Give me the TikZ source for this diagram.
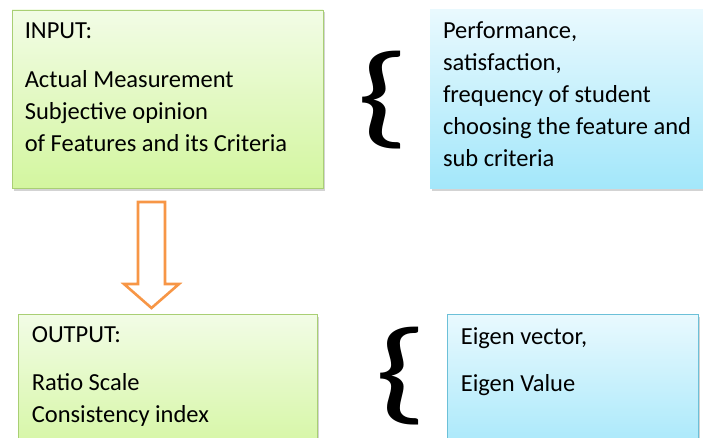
\documentclass[tikz,border=0pt]{standalone}
\usepackage{fontspec}
\setmainfont{Carlito}
\usetikzlibrary{shadows}

\definecolor{greentop}{HTML}{F2FCE6}
\definecolor{greenbot}{HTML}{D3F69F}
\definecolor{greenline}{HTML}{A9CF74}
\definecolor{bluetop}{HTML}{E9F9FE}
\definecolor{bluebot}{HTML}{A3E7FA}
\definecolor{blueline}{HTML}{6CC0D8}
\definecolor{arroworange}{HTML}{F79646}

\tikzset{
  greenbox/.style={draw=greenline, line width=0.8pt, inner sep=0pt,
    top color=greentop, bottom color=greenbot,
    drop shadow={opacity=0.35, shadow xshift=1.5pt, shadow yshift=-2.5pt}},
  bluebox/.style={inner sep=0pt, top color=bluetop, bottom color=bluebot,
    drop shadow={opacity=0.35, shadow xshift=1.5pt, shadow yshift=-2.5pt}},
  boxtext/.style={anchor=base west, inner sep=0pt, align=left,
    font=\fontsize{24.5}{32}\selectfont},
  bracetext/.style={inner sep=0pt, xscale=1.5, font=\fontsize{114}{114}\selectfont}
}

\begin{document}
\begin{tikzpicture}[x=1pt,y=1pt]

  \useasboundingbox (0,0) rectangle (703,437);
  \clip (0,0) rectangle (703,437);

  % Draw the boxes
  \node[greenbox, minimum width=311, minimum height=178] (inbox) at (167.5,338) {};
  \node[bluebox, minimum width=290, minimum height=178] (inspec) at (575,338) {};
  \node[greenbox, minimum width=299, minimum height=146] (outbox) at (167.5,50) {};
  \node[bluebox, draw=blueline, line width=0.8pt, minimum width=251, minimum height=146] (outspec) at (572.5,50) {};

  % Texts inside the boxes (base = last line)
  \node[boxtext] (intitle) at ([shift={(13,-29)}]inbox.north west) {INPUT:};
  \node[boxtext] (inlines) at ([shift={(13,-142)}]inbox.north west)
    {Actual Measurement\\Subjective opinion\\of Features and its Criteria};
  \node[boxtext] (speclines) at ([shift={(13,-157)}]inspec.north west)
    {Performance,\\satisfaction,\\frequency of student\\choosing the feature and\\sub criteria};
  \node[boxtext] (outtitle) at ([shift={(14,-29)}]outbox.north west) {OUTPUT:};
  \node[boxtext] (outlines) at ([shift={(14,-109)}]outbox.north west)
    {Ratio Scale\\Consistency index};
  \node[boxtext] (eigen) at ([shift={(14,-31)}]outspec.north west) {Eigen vector,};
  \node[boxtext] (eigenval) at ([shift={(14,-78)}]outspec.north west) {Eigen Value};

  % The two braces
  \node[bracetext] (inbrace) at (383,337) {\{};
  \node[bracetext] (outbrace) at (401,61) {\{};

  % Hollow arrow from input to output
  \draw[arroworange, line width=2.6pt, fill=white, line join=miter]
    (138,235) -- (165,235) -- (165,153) -- (179,153) -- (151.5,129)
    -- (124,153) -- (138,153) -- cycle;

\end{tikzpicture}
\end{document}
